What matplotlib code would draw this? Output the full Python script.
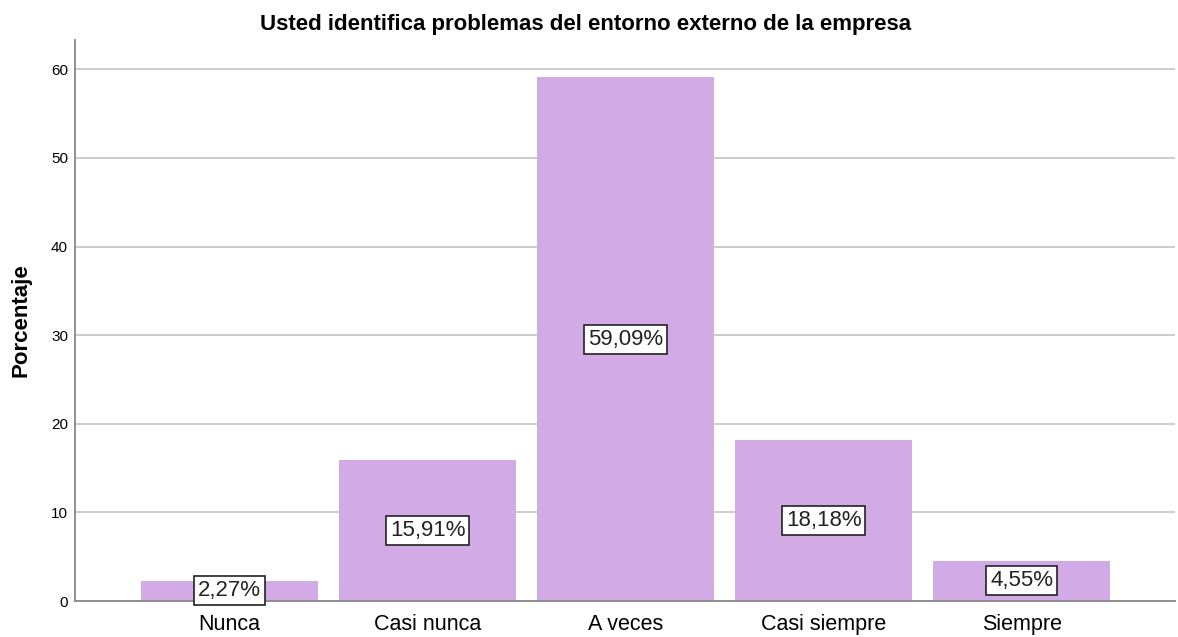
import matplotlib
matplotlib.use("Agg")
import matplotlib.pyplot as plt

categories = ["Nunca", "Casi nunca", "A veces", "Casi siempre", "Siempre"]
percentages = [2.27, 15.91, 59.09, 18.18, 4.55]
labels = ["2,27%", "15,91%", "59,09%", "18,18%", "4,55%"]

plt.rcParams['font.family'] = ['Liberation Sans', 'DejaVu Sans']

fig = plt.figure(figsize=(11.78, 6.37), dpi=100)
ax = fig.add_axes([0.0637, 0.0565, 0.9338, 0.8805])

x = range(len(categories))
ax.bar(x, percentages, width=0.894, color="#D2ABE6", zorder=2)
for i, (v, lab) in enumerate(zip(percentages, labels)):
    ax.text(i, v / 2, lab, ha="center", va="center", fontsize=16, color="#222222", zorder=3,
            bbox=dict(boxstyle="square,pad=0.18", facecolor="white", edgecolor="#222222", linewidth=1.2))

ax.set_xlim(-0.78, 4.775)
ax.set_ylim(0, 63.3)
ax.set_yticks([0, 10, 20, 30, 40, 50, 60])
ax.set_xticks(list(x))
ax.set_xticklabels(categories, fontsize=15.5)
ax.tick_params(axis="y", labelsize=11, length=0, pad=5)
ax.tick_params(axis="x", length=0, pad=9)
ax.yaxis.grid(True, color="#C8C8C8", linewidth=1.3, zorder=0)
ax.set_axisbelow(True)
for s in ["top", "right"]:
    ax.spines[s].set_visible(False)
ax.spines["left"].set_color("#888888")
ax.spines["bottom"].set_color("#888888")
ax.spines["left"].set_linewidth(1.3)
ax.spines["bottom"].set_linewidth(1.3)
ax.set_ylabel("Porcentaje", fontsize=16, fontweight="bold", labelpad=14)
ax.set_title("Usted identifica problemas del entorno externo de la empresa",
             fontsize=16, fontweight="bold", pad=7, x=0.4645)

fig.savefig("out.png", dpi=100)
